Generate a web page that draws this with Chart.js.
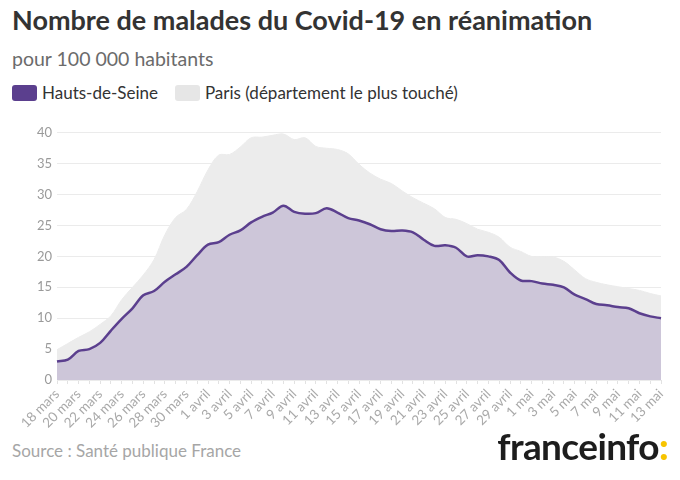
<!DOCTYPE html>
<html>
<head>
<meta charset="utf-8">
<script src="https://cdn.jsdelivr.net/npm/chart.js@4/dist/chart.umd.min.js"></script>
<style>
  body { margin: 0; background: #fff; font-family: Lato, "Noto Sans", sans-serif; }
  #wrap { position: relative; width: 680px; height: 480px; overflow: hidden; }
  h1 { position: absolute; left: 12px; top: 3px; margin: 0; font-size: 27px; font-weight: 700; color: #333; }
  .sub { position: absolute; left: 12px; top: 47px; font-size: 19.5px; color: #6b6b6b; }
  .legend { position: absolute; left: 12px; top: 82px; font-size: 17px; color: #333; display: flex; align-items: center; }
  .legend span.box { display: inline-block; width: 25px; height: 16px; border-radius: 3px; margin-right: 5px; }
  .legend .item { display: flex; align-items: center; margin-right: 17px; }
  #chartBox { position: absolute; left: 0; top: 120px; width: 680px; height: 320px; }
  .source { position: absolute; left: 12px; top: 440px; font-size: 17px; color: #a6a6a6; }
  .logo { position: absolute; right: 12px; top: 423px; font-size: 37px; font-weight: 700; color: #1d1d1d; letter-spacing: -0.6px; }
  .logo b { color: #f7c400; }
</style>
</head>
<body>
<div id="wrap">
  <h1>Nombre de malades du Covid-19 en réanimation</h1>
  <div class="sub">pour 100 000 habitants</div>
  <div class="legend">
    <div class="item"><span class="box" style="background:#5b3f8e"></span>Hauts-de-Seine</div>
    <div class="item"><span class="box" style="background:#e6e6e6"></span>Paris (département le plus touché)</div>
  </div>
  <div id="chartBox"><canvas id="myChart"></canvas></div>
  <div class="source">Source : Santé publique France</div>
  <div class="logo">franceinfo<b>:</b></div>
</div>
<script>
// one label per day, 18 mars -> 13 mai
const days = [
  '18 mars','19 mars','20 mars','21 mars','22 mars','23 mars','24 mars','25 mars','26 mars','27 mars',
  '28 mars','29 mars','30 mars','31 mars','1 avril','2 avril','3 avril','4 avril','5 avril','6 avril',
  '7 avril','8 avril','9 avril','10 avril','11 avril','12 avril','13 avril','14 avril','15 avril','16 avril',
  '17 avril','18 avril','19 avril','20 avril','21 avril','22 avril','23 avril','24 avril','25 avril','26 avril',
  '27 avril','28 avril','29 avril','30 avril','1 mai','2 mai','3 mai','4 mai','5 mai','6 mai',
  '7 mai','8 mai','9 mai','10 mai','11 mai','12 mai','13 mai'
];

const hautsDeSeine = [
  3.0, 3.3, 4.7, 5.0, 6.0, 8.0, 9.9, 11.6, 13.7, 14.4,
  15.9, 17.1, 18.3, 20.2, 21.9, 22.3, 23.5, 24.2, 25.5, 26.4,
  27.1, 28.2, 27.2, 26.9, 27.0, 27.8, 27.1, 26.2, 25.8, 25.2,
  24.4, 24.1, 24.2, 23.9, 22.7, 21.7, 21.8, 21.4, 20.0, 20.2,
  20.0, 19.4, 17.4, 16.1, 16.0, 15.6, 15.4, 15.0, 13.8, 13.1,
  12.3, 12.1, 11.8, 11.6, 10.8, 10.3, 10.0
];

const paris = [
  4.9, 5.9, 6.9, 7.8, 9.0, 10.4, 13.0, 15.0, 17.0, 19.5,
  23.5, 26.3, 27.6, 30.5, 34.0, 36.4, 36.5, 37.7, 39.2, 39.3,
  39.6, 39.8, 38.9, 39.2, 37.8, 37.5, 37.3, 36.6, 34.9, 33.5,
  32.5, 31.8, 30.6, 29.5, 28.6, 27.7, 26.3, 26.0, 25.3, 24.4,
  23.9, 23.1, 21.5, 20.8, 20.0, 19.9, 19.9, 19.2, 17.8, 16.4,
  15.8, 15.4, 15.1, 14.8, 14.5, 14.0, 13.6
];

const yTicks = [0, 5, 10, 15, 20, 25, 30, 35, 40];

const ctx = document.getElementById('myChart').getContext('2d');
const chart = new Chart(ctx, {
  type: 'line',
  data: {
    labels: days,
    datasets: [{
      label: 'Hauts-de-Seine',
      data: hautsDeSeine,
      borderColor: '#5b3f8e',
      backgroundColor: '#cdc6d9',
      borderWidth: 2.5,
      fill: 'origin',
      tension: 0.35,
      pointRadius: 0,
      order: 0
    }, {
      label: 'Paris (département le plus touché)',
      data: paris,
      borderColor: '#ececec',
      backgroundColor: '#ececec',
      borderWidth: 1,
      fill: 'origin',
      tension: 0.35,
      pointRadius: 0,
      order: 1
    }]
  },
  options: {
    animation: false,
    responsive: true,
    maintainAspectRatio: false,
    layout: { padding: { top: 10, right: 19, left: 0, bottom: 0 } },
    plugins: { legend: { display: false }, tooltip: { enabled: false } },
    scales: {
      x: {
        grid: { drawOnChartArea: false, drawTicks: true, tickLength: 4, color: '#e2e2e2' },
        border: { display: false },
        ticks: {
          autoSkip: false,
          maxRotation: 45,
          minRotation: 45,
          padding: 2,
          color: '#a9a9a9',
          font: { family: 'Lato, "Noto Sans", sans-serif', size: 13.5 },
          callback: function (v, i) { return i % 2 === 0 ? days[i] : ''; }
        },
        afterFit: function (s) { s.height = 60; }
      },
      y: {
        min: 0,
        max: 40,
        afterBuildTicks: function (s) { s.ticks = yTicks.map(v => ({ value: v })); },
        grid: { color: '#ebebeb', drawTicks: false },
        border: { display: false },
        ticks: {
          padding: 5,
          color: '#9a9a9a',
          font: { family: 'Lato, "Noto Sans", sans-serif', size: 13 }
        },
        afterFit: function (s) { s.width = 57; }
      }
    }
  }
});
</script>
</body>
</html>
